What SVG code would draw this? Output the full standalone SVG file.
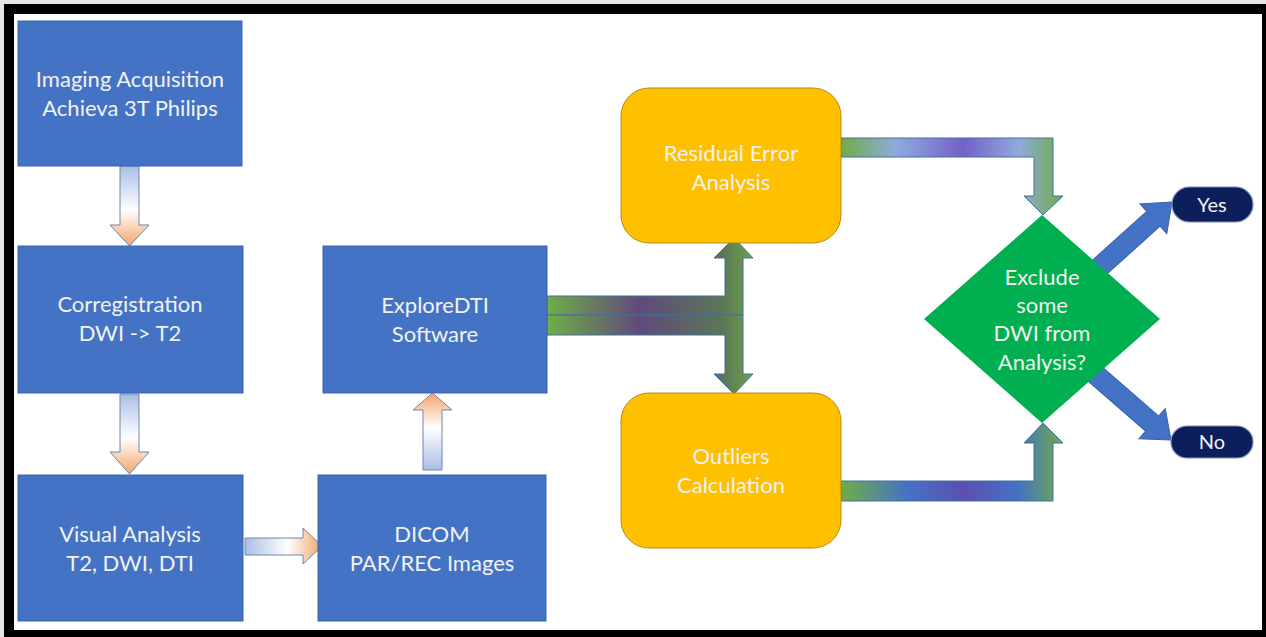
<svg xmlns="http://www.w3.org/2000/svg" width="1266" height="637" viewBox="0 0 1266 637">
<style>
.box{fill:#4472C4;stroke:#3B64AE;stroke-width:1}
.rbox{fill:#FFC000;stroke:#B58A12;stroke-width:1}
.t{font-family:Lato,"Liberation Sans",sans-serif;font-size:22px;fill:#F2F2F2;text-anchor:middle}
.tp{font-family:Lato,"Liberation Sans",sans-serif;font-size:20px;fill:#F2F2F2;text-anchor:middle}
.pill{fill:#0C1E5B;stroke:#7F8FB5;stroke-width:1.2}
.blk{stroke:#6F86B0;stroke-width:1}
.conn{stroke:#41719C;stroke-width:1}
.ba{fill:#4472C4;stroke:#3A62A8;stroke-width:1}
</style>
<defs>
<linearGradient id="gDown" x1="0" y1="0" x2="0" y2="1">
<stop offset="0" stop-color="#A9BEE4"/><stop offset="0.55" stop-color="#FFFFFF"/><stop offset="1" stop-color="#F3A46A"/>
</linearGradient>
<linearGradient id="gUp" x1="0" y1="1" x2="0" y2="0">
<stop offset="0" stop-color="#A9BEE4"/><stop offset="0.55" stop-color="#FFFFFF"/><stop offset="1" stop-color="#F3A46A"/>
</linearGradient>
<linearGradient id="gRight" x1="0" y1="0" x2="1" y2="0">
<stop offset="0" stop-color="#A9BEE4"/><stop offset="0.55" stop-color="#FFFFFF"/><stop offset="1" stop-color="#F3A46A"/>
</linearGradient>
<linearGradient id="gT" gradientUnits="userSpaceOnUse" x1="547" y1="0" x2="753" y2="0">
<stop offset="0" stop-color="#70AD47"/><stop offset="0.45" stop-color="#604A7B"/><stop offset="0.85" stop-color="#5A7657"/><stop offset="1" stop-color="#6FA24B"/>
</linearGradient>
<linearGradient id="gTop" gradientUnits="userSpaceOnUse" x1="841" y1="0" x2="1063" y2="0">
<stop offset="0" stop-color="#70AD47"/><stop offset="0.25" stop-color="#8FAADC"/><stop offset="0.55" stop-color="#7460C8"/><stop offset="0.8" stop-color="#8FAADC"/><stop offset="1" stop-color="#70AD47"/>
</linearGradient>
<linearGradient id="gBot" gradientUnits="userSpaceOnUse" x1="841" y1="0" x2="1063" y2="0">
<stop offset="0" stop-color="#70AD47"/><stop offset="0.3" stop-color="#4472C4"/><stop offset="0.55" stop-color="#5B4FB0"/><stop offset="0.8" stop-color="#4472C4"/><stop offset="1" stop-color="#70AD47"/>
</linearGradient>
</defs>
<rect x="0" y="0" width="1266" height="637" fill="#E6E6E6"/>
<rect x="4" y="4" width="1262" height="633" fill="#000"/>
<rect x="14" y="14" width="1248" height="616" fill="#FFFFFF"/>

<g id="connectors">
<path class="blk" fill="url(#gDown)" d="M120,166 H139 V225 H149 L129.5,246 L110,225 H120 Z"/>
<path class="blk" fill="url(#gDown)" d="M120,394 H139 V452 H149 L129.5,474 L110,452 H120 Z"/>
<path class="blk" fill="url(#gRight)" d="M245,538 H303 V528 L322,546 L303,564 V555 H245 Z"/>
<path class="blk" fill="url(#gUp)" d="M423,470 V410 H413 L432.5,393 L452,410 H442 V470 Z"/>
<path class="conn" fill="url(#gT)" d="M547,296 H725 V258 H714 L734,238 L753,258 H743 V315 H547 Z"/>
<path class="conn" fill="url(#gT)" d="M547,315 H743 V374 H753 L734,394 L714,374 H725 V335 H547 Z"/>
<path class="conn" fill="url(#gTop)" d="M841,138 H1053 V196 H1063 L1043,215 L1024,196 H1034 V157 H841 Z"/>
<path class="conn" fill="url(#gBot)" d="M841,501 H1053 V443 H1063 L1043,423 L1024,443 H1034 V481 H841 Z"/>
<path class="ba" transform="translate(1172,202) rotate(-42)" d="M-112,-10 H-25 V-20 L0,0 L-25,20 V10 H-112 Z"/>
<path class="ba" transform="translate(1171,440) rotate(41)" d="M-108,-10 H-25 V-20 L0,0 L-25,20 V10 H-108 Z"/>
</g>

<g id="n-imaging">
<rect class="box" x="18" y="21" width="224" height="145"/>
<text class="t" x="130" y="87">Imaging Acquisition</text>
<text class="t" x="130" y="116">Achieva 3T Philips</text>
</g>
<g id="n-corregistration">
<rect class="box" x="18" y="246" width="225" height="147"/>
<text class="t" x="130" y="312">Corregistration</text>
<text class="t" x="130" y="341">DWI -&gt; T2</text>
</g>
<g id="n-visual">
<rect class="box" x="18" y="475" width="225" height="146"/>
<text class="t" x="130" y="542">Visual Analysis</text>
<text class="t" x="130" y="571">T2, DWI, DTI</text>
</g>
<g id="n-dicom">
<rect class="box" x="318" y="475" width="228" height="146"/>
<text class="t" x="432" y="542">DICOM</text>
<text class="t" x="432" y="571">PAR/REC Images</text>
</g>
<g id="n-exploredti">
<rect class="box" x="323" y="246" width="224" height="147"/>
<text class="t" x="435" y="313">ExploreDTI</text>
<text class="t" x="435" y="342">Software</text>
</g>
<g id="n-residual">
<rect class="rbox" x="621" y="88" width="220" height="155" rx="28"/>
<text class="t" x="731" y="161">Residual Error</text>
<text class="t" x="731" y="190">Analysis</text>
</g>
<g id="n-outliers">
<rect class="rbox" x="621" y="393" width="220" height="155" rx="28"/>
<text class="t" x="731" y="464">Outliers</text>
<text class="t" x="731" y="493">Calculation</text>
</g>
<g id="n-decision">
<polygon points="1042,215 1160,319 1042,423 924,319" fill="#00B050"/>
<text class="t" x="1042" y="285">Exclude</text>
<text class="t" x="1042" y="313">some</text>
<text class="t" x="1042" y="341">DWI from</text>
<text class="t" x="1042" y="370">Analysis?</text>
</g>
<g id="n-yes">
<rect class="pill" x="1172" y="187" width="81" height="35" rx="17.5"/>
<text class="tp" x="1212" y="212">Yes</text>
</g>
<g id="n-no">
<rect class="pill" x="1171" y="426" width="82" height="32" rx="16"/>
<text class="tp" x="1212" y="449">No</text>
</g>
</svg>
